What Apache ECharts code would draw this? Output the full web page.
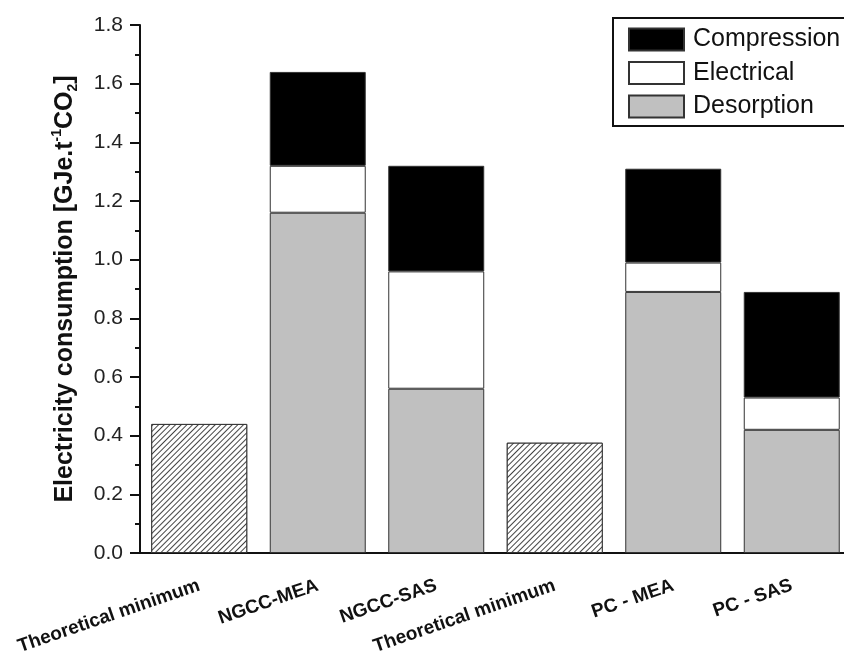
<!DOCTYPE html>
<html>
<head>
<meta charset="utf-8">
<script src="https://cdn.jsdelivr.net/npm/echarts@6/dist/echarts.min.js"></script>
<style>
  html, body { margin: 0; padding: 0; background: #fff; }
  #chart { width: 844px; height: 659px; }
</style>
</head>
<body>
<div id="chart"></div>
<script>
const categories = ['Theoretical minimum', 'NGCC-MEA', 'NGCC-SAS', 'Theoretical minimum', 'PC - MEA', 'PC - SAS'];
const theoretical = [0.44, null, null, 0.376, null, null];
const desorption = [null, 1.16, 0.56, null, 0.89, 0.42];
const electrical = [null, 0.16, 0.40, null, 0.10, 0.11];
const compression = [null, 0.32, 0.36, null, 0.32, 0.36];
const legendNames = ['Compression', 'Electrical', 'Desorption'];
const yMin = 0, yMax = 1.8, yStep = 0.2;

const font = 'Liberation Sans, Arial, sans-serif';
const border = {borderColor: '#333', borderWidth: 1};

const chart = echarts.init(document.getElementById('chart'));

const option = {
    animation: false,
    backgroundColor: '#fff',
    grid: {
        left: 140,
        top: 25,
        width: 711,
        height: 528,
        containLabel: false,
        outerBoundsMode: 'none'
    },
    legend: {
        data: legendNames,
        orient: 'vertical',
        left: 613,
        top: 18,
        icon: 'rect',
        itemWidth: 55,
        itemHeight: 22,
        itemGap: 8.5,
        padding: [9, 30, 7, 15],
        borderColor: '#111',
        borderWidth: 2,
        selectedMode: false,
        textStyle: {
            fontFamily: font,
            fontSize: 25,
            color: '#111',
            lineHeight: 22,
            padding: [0, 0, 0, 4]
        }
    },
    xAxis: [
        {
            type: 'category',
            data: categories,
            axisLine: {lineStyle: {color: '#111', width: 2}},
            axisTick: {alignWithLabel: true, length: 11, lineStyle: {color: '#111', width: 2}},
            axisLabel: {
                interval: 0,
                rotate: 19,
                margin: 32,
                fontFamily: font,
                fontWeight: 'bold',
                fontSize: 19,
                color: '#111'
            },
            splitLine: {show: false}
        },
        {
            type: 'category',
            data: categories,
            position: 'bottom',
            axisLine: {show: false},
            axisTick: {length: 7, lineStyle: {color: '#111', width: 2}},
            axisLabel: {show: false},
            splitLine: {show: false}
        }
    ],
    yAxis: {
        type: 'value',
        min: yMin,
        max: yMax,
        interval: yStep,
        name: '{b|Electricity consumption [GJe.t}{sup|-1}{b|CO}{sub|2}{b|]}',
        nameLocation: 'middle',
        nameGap: 60,
        nameTextStyle: {
            rich: {
                b: {fontFamily: font, fontWeight: 'bold', fontSize: 25, color: '#111', lineHeight: 30},
                sup: {fontFamily: font, fontWeight: 'bold', fontSize: 14, color: '#111', verticalAlign: 'top', lineHeight: 30},
                sub: {fontFamily: font, fontWeight: 'bold', fontSize: 14, color: '#111', verticalAlign: 'bottom', lineHeight: 30}
            }
        },
        axisLine: {show: true, lineStyle: {color: '#111', width: 2}},
        axisTick: {show: true, length: 10, lineStyle: {color: '#111', width: 2}},
        minorTick: {show: true, splitNumber: 2, length: 5, lineStyle: {color: '#111', width: 2}},
        axisLabel: {
            margin: 17,
            fontFamily: font,
            fontSize: 21,
            color: '#222',
            formatter: v => v.toFixed(1)
        },
        splitLine: {show: false}
    },
    series: [
        {
            name: 'Theoretical minimum',
            type: 'bar',
            stack: 'total',
            barCategoryGap: '19%',
            data: theoretical,
            itemStyle: {
                color: '#fff',
                ...border,
                decal: {
                    symbol: 'rect',
                    symbolSize: 1,
                    dashArrayX: [1, 0],
                    dashArrayY: [1, 3],
                    rotation: -Math.PI / 4,
                    color: '#444',
                    backgroundColor: '#fff'
                }
            }
        },
        {
            name: 'Desorption',
            type: 'bar',
            stack: 'total',
            barCategoryGap: '19%',
            data: desorption,
            itemStyle: {color: '#c0c0c0', ...border}
        },
        {
            name: 'Electrical',
            type: 'bar',
            stack: 'total',
            barCategoryGap: '19%',
            data: electrical,
            itemStyle: {color: '#fff', ...border}
        },
        {
            name: 'Compression',
            type: 'bar',
            stack: 'total',
            barCategoryGap: '19%',
            data: compression,
            itemStyle: {color: '#000', ...border}
        }
    ]
};

option && chart.setOption(option);
</script>
</body>
</html>
